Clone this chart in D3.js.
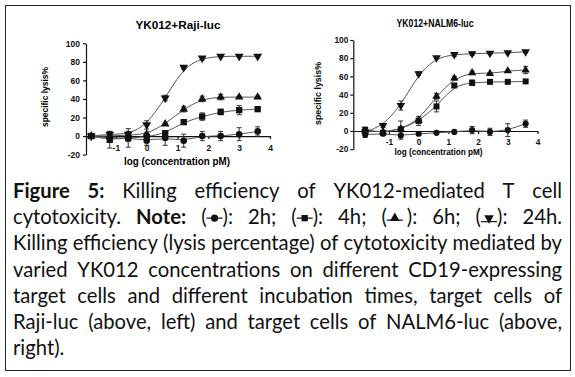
<!DOCTYPE html>
<html>
<head>
<meta charset="utf-8">
<script src="https://cdn.jsdelivr.net/npm/d3@7"></script>
<style>
  body { margin: 0; background: #fff; }
  svg { display: block; }
</style>
</head>
<body>
<div id="canvas"></div>
<script>
"use strict"

let svgWidth = 575
let svgHeight = 377

// x values: log (concentration pM)
let logConc = [-1.8, -1.2, -0.6, 0, 0.6, 1.2, 1.8, 2.4, 3.0, 3.6]
let xTicks = [-1, 0, 1, 2, 3, 4]
let yTicks = [-20, 0, 20, 40, 60, 80, 100]
let seriesNames = ["2h", "4h", "6h", "24h"]

// YK012 + Raji-luc, specific lysis %
let raji2h = [0, -2, -2, -5, -2, -5, 0, 0, 2, 5]
let raji2hErr = [1, 5, 10, 5, 8, 7, 5, 5, 7, 5]
let raji4h = [0, -4, -2, -1, 3, 15, 21, 26, 28, 29]
let raji4hErr = [1, 9, 4, 3, 3, 2, 4, 3, 5, 2]
let raji6h = [0, 0, 1, 2, 13, 29, 40, 42, 42, 42]
let raji6hErr = [1, 2, 2, 2, 1, 3, 3, 3, 1, 1]
let raji24h = [0, 2, 2, 12, 41, 74, 84, 86, 86, 86]
let raji24hErr = [1, 3, 3, 4.5, 3, 2, 1.5, 1, 1, 1]

// YK012 + NALM6-luc, specific lysis %
let nalm2h = [-4, -3, -5, -3, -2, -1, 1, -1, 1, 8]
let nalm2hErr = [3, 2, 4, 2, 1, 1, 4, 4, 7, 4]
let nalm4h = [1.5, -2, 2, 11, 27, 50, 53, 54, 54, 54.5]
let nalm4hErr = [2, 2, 9, 5, 6, 2, 3, 2, 1, 1]
let nalm6h = [0, -1, 2, 12, 38, 58, 64, 63, 66, 67]
let nalm6hErr = [1, 1, 2, 2, 3, 2, 2, 1, 1, 4]
let nalm24h = [-1, 6, 28, 63, 80.5, 84, 85, 85.5, 86, 87]
let nalm24hErr = [1, 2, 5, 2, 1, 2, 2, 1, 1, 1]

let captionLines = [
    "**Figure** **5:** Killing efficiency of YK012-mediated T cell",
    "cytotoxicity. **Note:** (~[circle]~): 2h; (~[square]~): 4h; (~[up]~~): 6h; (~[down]~): 24h.",
    "Killing efficiency (lysis percentage) of cytotoxicity mediated by",
    "varied YK012 concentrations on different CD19-expressing",
    "target cells and different incubation times, target cells of",
    "Raji-luc (above, left) and target cells of NALM6-luc (above,",
    "right)."
]

let chartFont = "'Liberation Sans', Arial, sans-serif"
let captionFont = "Lato, 'Open Sans', sans-serif"

let symbolFor = {
    circle: d3.symbolCircle,
    square: d3.symbolSquare,
    up: d3.symbolTriangle,
    down: d3.symbolTriangle
}
let seriesSymbol = ["circle", "square", "up", "down"]

let svg = d3.select("#canvas")
    .append("svg")
    .attr("width", svgWidth)
    .attr("height", svgHeight)

svg.append("rect")
    .attr("width", svgWidth)
    .attr("height", svgHeight)
    .attr("fill", "#fff")

/* outer frame */
svg.append("rect")
    .attr("x", 5.5)
    .attr("y", 5.5)
    .attr("width", 565)
    .attr("height", 365)
    .attr("fill", "none")
    .attr("stroke", "#222")
    .attr("stroke-width", 1)

function markerPath(kind, size) {
    return d3.symbol().type(symbolFor[kind]).size(size)()
}

function addLabel(g, opts, str, rotate) {
    let t = g.append("text")
        .attr("text-anchor", "middle")
        .attr("font-family", chartFont)
        .attr("font-weight", "bold")
        .attr("font-size", opts.size)
        .attr("textLength", opts.len)
        .attr("lengthAdjust", "spacingAndGlyphs")
        .text(str)
    if (rotate) {
        t.attr("transform", `translate(${opts.x},${opts.y}) rotate(-90)`)
    } else {
        t.attr("x", opts.x).attr("y", opts.y)
    }
}

function drawPanel(p) {
    let g = svg.append("g")

    let x = d3.scaleLinear()
        .domain([p.xMin, 4])
        .range(p.xRange)
    let y = d3.scaleLinear()
        .domain([-20, 100])
        .range(p.yRange)

    /* Y axis */
    let yAxisG = g.append("g")
        .attr("transform", `translate(${p.xRange[0]},0)`)
        .call(d3.axisLeft(y).tickValues(yTicks).tickSize(3).tickSizeOuter(0)
            .tickPadding(p.yPad).tickFormat(d => String(d)))

    /* X axis sits on the zero line */
    let xAxisG = g.append("g")
        .attr("transform", `translate(0,${y(0)})`)
        .call(d3.axisBottom(x).tickValues(xTicks).tickSize(3).tickSizeOuter(0)
            .tickPadding(p.xPad).tickFormat(d => String(d)))

    for (let ax of [yAxisG, xAxisG]) {
        ax.attr("font-family", chartFont)
            .attr("font-size", p.tickSize)
            .attr("font-weight", "bold")
        ax.selectAll("path, line")
            .attr("stroke", "#111")
            .attr("stroke-width", 1.2)
        ax.selectAll("text").attr("fill", "#111")
    }

    let line = d3.line()
        .x((d, i) => x(logConc[i]))
        .y(d => y(d))
        .curve(d3.curveBasis)

    /* fitted curves */
    p.means.forEach(function (values) {
        g.append("path")
            .attr("d", line(values))
            .attr("fill", "none")
            .attr("stroke", "#555")
            .attr("stroke-width", 1)
    })

    /* error bars */
    p.means.forEach(function (values, s) {
        let errs = p.errors[s]
        g.selectAll(null)
            .data(values)
            .enter()
            .append("path")
            .attr("d", function (v, i) {
                let cx = x(logConc[i])
                let y1 = y(v - errs[i])
                let y2 = y(v + errs[i])
                return `M${cx},${y1}V${y2}M${cx - 2.5},${y1}H${cx + 2.5}M${cx - 2.5},${y2}H${cx + 2.5}`
            })
            .attr("fill", "none")
            .attr("stroke", "#333")
            .attr("stroke-width", 1)
    })

    /* markers */
    p.means.forEach(function (values, s) {
        let kind = seriesSymbol[s]
        g.selectAll(null)
            .data(values)
            .enter()
            .append("path")
            .attr("d", markerPath(kind, p.markerSize[kind]))
            .attr("transform", function (v, i) {
                let rot = kind === "down" ? " rotate(180)" : ""
                return `translate(${x(logConc[i])},${y(v)})${rot}`
            })
            .attr("fill", "#111")
    })

    addLabel(g, p.title, p.title.text, false)
    addLabel(g, p.xLabel, "log (concentration pM)", false)
    addLabel(g, p.yLabel, "specific lysis%", true)
}

drawPanel({
    xMin: -1.97,
    xRange: [86, 270],
    yRange: [154.6, 43.3],
    xPad: 6,
    yPad: 3,
    tickSize: 8.5,
    markerSize: { circle: 34, square: 40, up: 32, down: 34 },
    means: [raji2h, raji4h, raji6h, raji24h],
    errors: [raji2hErr, raji4hErr, raji6hErr, raji24hErr],
    title: { text: "YK012+Raji-luc", x: 178, y: 29, size: 11, len: 85 },
    xLabel: { x: 177, y: 165, size: 10, len: 106 },
    yLabel: { x: 48, y: 97, size: 8.8, len: 60 }
})

drawPanel({
    xMin: -2.2,
    xRange: [353.3, 537.5],
    yRange: [149.2, 40],
    xPad: 5,
    yPad: 2,
    tickSize: 8.3,
    markerSize: { circle: 30, square: 36, up: 30, down: 32 },
    means: [nalm2h, nalm4h, nalm6h, nalm24h],
    errors: [nalm2hErr, nalm4hErr, nalm6hErr, nalm24hErr],
    title: { text: "YK012+NALM6-luc", x: 435, y: 26.5, size: 10, len: 77 },
    xLabel: { x: 438.5, y: 155, size: 9.5, len: 88 },
    yLabel: { x: 321, y: 93.5, size: 8.8, len: 63 }
})

/* --- caption, justified word by word --- */
let capLeft = 13
let capRight = 562
let capTop = 198
let capLeading = 26.2
let markerW = 16
let innerGap = 0.2

let measurer = svg.append("text")
    .attr("font-family", captionFont)
    .style("white-space", "pre")
    .attr("x", -1000)
    .attr("y", -1000)

function textWidth(str, bold, fs) {
    measurer.attr("font-size", fs).attr("font-weight", bold ? "bold" : "normal").text(str)
    return measurer.node().getComputedTextLength()
}

function parseWord(word) {
    return word.split("~").map(function (part) {
        if (part === "") return { gap: true }
        let m = part.match(/^\[(\w+)\]$/)
        if (m) return { marker: m[1] }
        let b = part.match(/^\*\*(.*)\*\*$/)
        if (b) return { text: b[1], bold: true }
        return { text: part, bold: false }
    })
}

function wordWidth(segs, fs) {
    let w = 0
    segs.forEach(function (s) {
        if (s.gap) w += fs * innerGap
        else if (s.marker) w += markerW
        else w += textWidth(s.text, s.bold, fs)
    })
    return w
}

let parsedLines = captionLines.map(l => l.split(" ").map(parseWord))

// size the font so the tightest line just fits the caption width
let baseSize = 18
let spaceAt = fs => textWidth("a a", false, fs) - textWidth("aa", false, fs)
let natural = parsedLines[2].reduce((a, w) => a + wordWidth(w, baseSize), 0) +
    spaceAt(baseSize) * (parsedLines[2].length - 1)
let capSize = baseSize * (capRight - capLeft) / natural

let caption = svg.append("g")
    .attr("font-family", captionFont)
    .attr("font-size", capSize)
    .attr("fill", "#111")

parsedLines.forEach(function (words, li) {
    let baseline = capTop + li * capLeading
    let widths = words.map(w => wordWidth(w, capSize))
    let total = d3.sum(widths)
    let last = li === parsedLines.length - 1
    let gap = last ? spaceAt(capSize) : (capRight - capLeft - total) / (words.length - 1)
    let cx = capLeft
    words.forEach(function (segs, wi) {
        segs.forEach(function (s) {
            if (s.gap) {
                cx += capSize * innerGap
            } else if (s.marker) {
                let my = baseline - capSize * 0.3
                let lineY = s.marker === "down" ? my + 3.5 : (s.marker === "up" ? my + 2 : my)
                caption.append("line")
                    .attr("x1", cx)
                    .attr("x2", cx + markerW)
                    .attr("y1", lineY)
                    .attr("y2", lineY)
                    .attr("stroke", "#222")
                    .attr("stroke-width", 1.3)
                caption.append("path")
                    .attr("d", markerPath(s.marker, 40))
                    .attr("transform", `translate(${cx + markerW / 2},${my})` + (s.marker === "down" ? " rotate(180)" : ""))
                    .attr("fill", "#111")
                cx += markerW
            } else {
                caption.append("text")
                    .attr("x", cx)
                    .attr("y", baseline)
                    .attr("font-weight", s.bold ? "bold" : "normal")
                    .text(s.text)
                cx += textWidth(s.text, s.bold, capSize)
            }
        })
        cx += gap
    })
})

measurer.remove()
</script>
</body>
</html>
